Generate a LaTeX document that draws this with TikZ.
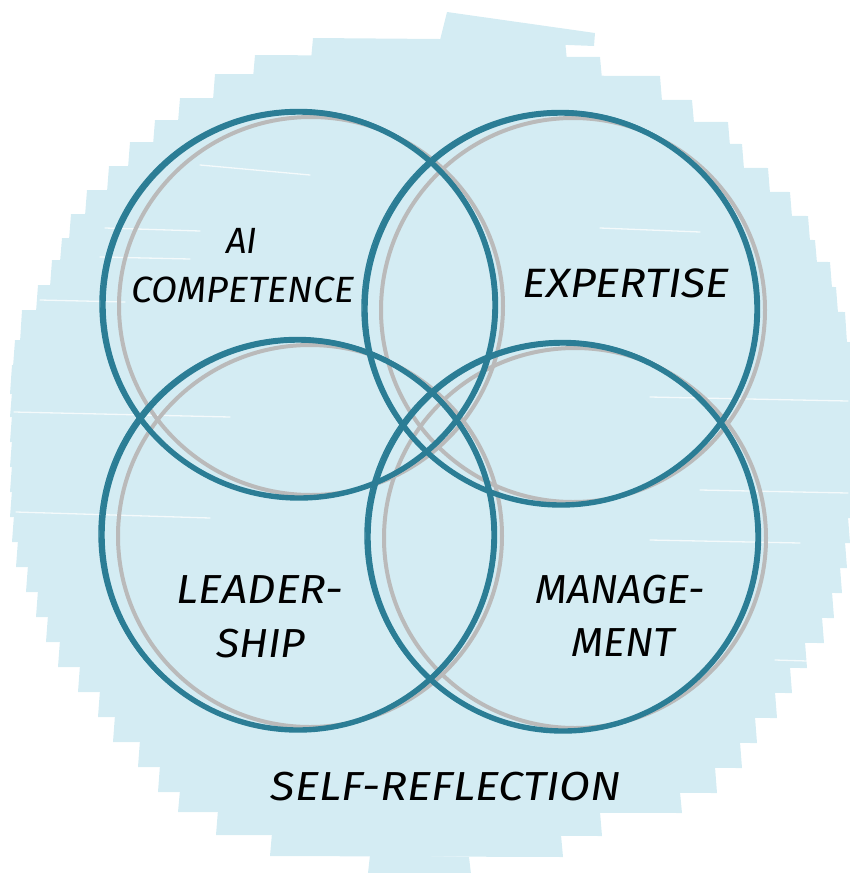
\documentclass[tikz,border=0pt]{standalone}
\usepackage{fontspec}
\setmainfont{Fira Sans}
\usepackage{graphicx}
\definecolor{bgblue}{RGB}{212,236,243}
\definecolor{tealc}{RGB}{43,125,149}
\definecolor{shadowc}{RGB}{186,186,186}
\tikzset{
  band/.style={fill=bgblue, draw=none},
  streak/.style={draw=white, line width=1.3pt, opacity=0.75, line cap=round},
  shadowline/.style={draw=shadowc, line width=4pt},
  tealmain/.style={draw=tealc, line width=5.4pt},
  tealthin/.style={draw=tealc, line width=1.4pt},
  lbl/.style={anchor=base, inner sep=0pt, text=black}
}
\newcommand\sketchring[4]{%
  \draw[tealmain] (#1,#2) ellipse [x radius=#3, y radius=#4];
  \draw[tealthin] (#1-1,#2-1) ellipse [x radius=#3+2, y radius=#4+1.5, rotate=2];
  \draw[tealthin] (#1+1,#2) ellipse [x radius=#3+1.5, y radius=#4+1, rotate=-3];
}
\newcommand\shadowring[4]{%
  \draw[shadowline] (#1+12,#2+1) ellipse [x radius=#3-4, y radius=#4-4];
}
\newcommand\lbltext[3]{\resizebox{#1pt}{\height}{\fontsize{#2}{#2}\selectfont\itshape #3}}
\begin{document}
\begin{tikzpicture}[x=1pt,y=-1pt]
\useasboundingbox (0,0) rectangle (850,873);
% brush-stroke background
\fill[band] (447,12) -- (595,33) -- (594,46) -- (440,40) -- cycle;
\foreach \ya/\yb/\xl/\xr in {38/60/313/565, 55/78/255/600, 74/100/215/660,
  98/122/180/692, 120/145/155/728, 142/168/130/742, 166/192/109/768,
  190/216/87/790, 214/240/71/808, 238/262/62/815, 260/287/52/830,
  285/312/38/836, 310/342/22/845, 340/367/15/850, 365/394/12/850,
  392/417/12/850, 415/442/12/850, 440/467/12/850, 465/492/12/850,
  490/517/12/850, 515/542/14/848, 540/567/18/845, 565/592/28/840,
  590/617/38/832, 615/642/48/822, 640/667/60/805, 665/692/80/790,
  690/717/100/775, 715/742/115/755, 740/767/140/740, 765/792/160/715,
  790/812/180/680, 810/835/218/600, 833/856/272/561, 855/873/370/469}
  {\fill[band] (\xl,\ya) -- (\xr,\ya+2) -- (\xr+2,\yb+1) -- (\xl-2,\yb) -- cycle;}
% white streaks
\draw[streak] (14,412) -- (230,417);
\draw[streak] (16,512) -- (210,518);
\draw[streak] (40,300) -- (125,302);
\draw[streak] (105,228) -- (200,231);
\draw[streak] (100,257) -- (190,259);
\draw[streak] (200,165) -- (310,175);
\draw[streak] (650,397) -- (848,401);
\draw[streak] (700,490) -- (848,493);
\draw[streak] (650,540) -- (800,543);
\draw[streak] (600,228) -- (700,232);
\draw[streak] (775,660) -- (840,662);
% shadow rings
\shadowring{299}{305}{196}{193}
\shadowring{561}{309}{196}{196}
\shadowring{298}{535}{196}{195}
\shadowring{563}{537}{195}{194}
% teal rings
\sketchring{299}{305}{196}{193}
\sketchring{561}{309}{196}{196}
\sketchring{298}{535}{196}{195}
\sketchring{563}{537}{195}{194}
% labels
\node[lbl] (ai) at (242,253) {\lbltext{31}{36.5}{AI}};
\node[lbl] (comp) at (243,302) {\lbltext{223}{36.5}{COMPETENCE}};
\node[lbl] (exp) at (626,297) {\lbltext{207}{41}{EXPERTISE}};
\node[lbl] (lead) at (260,603) {\lbltext{166}{40.5}{LEADER-}};
\node[lbl] (ship) at (261,657) {\lbltext{89}{40.5}{SHIP}};
\node[lbl] (man) at (620,603) {\lbltext{169}{40.5}{MANAGE-}};
\node[lbl] (ment) at (623,656) {\lbltext{104}{40.5}{MENT}};
\node[lbl] (self) at (446,800) {\lbltext{350}{40.5}{SELF-REFLECTION}};
\end{tikzpicture}
\end{document}
